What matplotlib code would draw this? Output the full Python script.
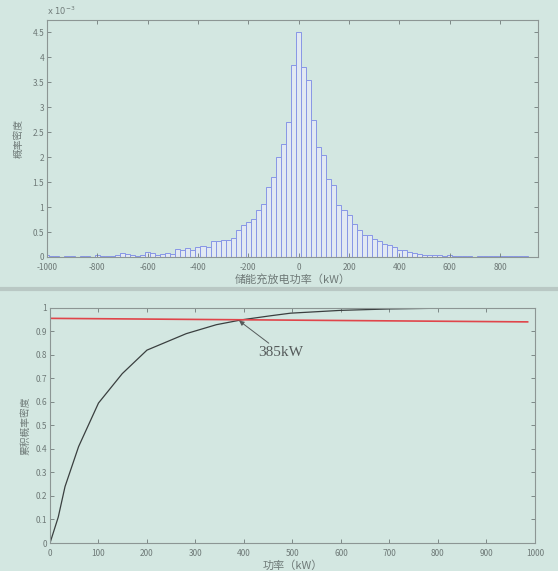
import numpy as np
import matplotlib
matplotlib.use("Agg")
import matplotlib.pyplot as plt
from matplotlib.ticker import FuncFormatter

plt.rcParams['font.family'] = ['Noto Sans CJK SC', 'DejaVu Sans']
plt.rcParams['axes.unicode_minus'] = False

# histogram: bin centres (kW) and density (x 1e-3)
bin_centers = np.arange(-1000, 940, 20)
density = np.array([
    0.03, 0.01, 0.01, 0.00, 0.01, 0.01, 0.00, 0.01, 0.01, 0.00,   # -1000 .. -820
    0.03, 0.01, 0.01, 0.02, 0.04, 0.07, 0.06, 0.03, 0.02, 0.03,   # -800 .. -620
    0.09, 0.07, 0.03, 0.05, 0.07, 0.06, 0.15, 0.13, 0.17, 0.14,   # -600 .. -420
    0.20, 0.21, 0.19, 0.31, 0.31, 0.34, 0.34, 0.37, 0.54, 0.64,   # -400 .. -220
    0.71, 0.77, 0.94, 1.07, 1.41, 1.61, 2.00, 2.27, 2.71, 3.84,   # -200 .. -20
    4.51, 3.81, 3.54, 2.74, 2.21, 2.04, 1.57, 1.44, 1.04, 0.95,   # 0 .. 180
    0.84, 0.66, 0.54, 0.45, 0.45, 0.35, 0.31, 0.25, 0.24, 0.20,   # 200 .. 380
    0.13, 0.13, 0.10, 0.07, 0.06, 0.04, 0.04, 0.03, 0.04, 0.02,   # 400 .. 580
    0.03, 0.02, 0.01, 0.01, 0.01, 0.00, 0.01, 0.02, 0.01, 0.01,   # 600 .. 780
    0.02, 0.01, 0.01, 0.01, 0.01, 0.01, 0.00,                     # 800 .. 920
])

# cumulative probability curve
cdf_x = [0, 17, 31, 59, 100, 149, 200, 281, 343, 396, 455, 496, 600, 700, 800, 900, 985]
cdf_y = [0, 0.11, 0.24, 0.41, 0.595, 0.72, 0.82, 0.89, 0.928, 0.949, 0.966, 0.977,
         0.989, 0.995, 0.998, 0.999, 1.0]

# 95% reference line and marked point
ref_x = [0, 985]
ref_y = [0.955, 0.94]
mark_x, mark_y = 390, 0.945
mark_label = "385kW"

bg = '#d3e7e1'
grey = '#6f7a78'
spine = '#8c9694'

fig = plt.figure(figsize=(5.58, 5.71), dpi=100, facecolor=bg)

# ---- top panel: histogram
ax1 = fig.add_axes([0.084, 0.55, 0.880, 0.415], facecolor=bg)
ax1.bar(bin_centers, density * 1e-3, width=20, facecolor='#e2e9f2',
        edgecolor='#8796e6', linewidth=0.7)
ax1.set_xlim(-1000, 950)
ax1.set_ylim(0, 4.75e-3)
ax1.set_xticks(np.arange(-1000, 801, 200))
ax1.set_yticks(np.arange(0, 4.51e-3, 0.5e-3))
ax1.yaxis.set_major_formatter(FuncFormatter(lambda v, p: f"{v * 1e3:g}"))
ax1.text(0.0, 1.012, r"x 10$^{-3}$", transform=ax1.transAxes, fontsize=6,
         color=grey, family='DejaVu Sans', va='bottom', ha='left')
ax1.set_xlabel("储能充放电功率（kW）", fontsize=8, color=grey, labelpad=2)
ax1.set_ylabel("概率密度", fontsize=7, color=grey, labelpad=6)

# ---- bottom panel: cumulative probability
ax2 = fig.add_axes([0.0896, 0.049, 0.869, 0.412], facecolor=bg)
ax2.plot(cdf_x, cdf_y, color='#3a3f3f', linewidth=0.9)
ax2.plot(ref_x, ref_y, color='#e0454a', linewidth=1.2)
ax2.annotate(mark_label, xy=(mark_x, mark_y), xytext=(430, 0.81),
             fontsize=11, color='#555b5b', family='Liberation Serif',
             va='center',
             arrowprops=dict(arrowstyle='-|>', color='#555b5b', lw=0.7,
                             shrinkA=0, shrinkB=0, mutation_scale=7))
ax2.set_xlim(0, 1000)
ax2.set_ylim(0, 1)
ax2.set_xticks(np.arange(0, 1001, 100))
ax2.set_yticks(np.arange(0, 1.01, 0.1))
ax2.set_yticklabels(['0', '0.1', '0.2', '0.3', '0.4', '0.5', '0.6', '0.7',
                     '0.8', '0.9', '1'])
ax2.set_xlabel("功率（kW）", fontsize=8, color=grey, labelpad=2)
ax2.set_ylabel("累积概率密度", fontsize=7, color=grey, labelpad=4)

for ax in (ax1, ax2):
    ax.tick_params(direction='in', top=True, right=True, labelsize=6,
                   colors=grey, length=3, width=0.6, pad=2)
    ax.tick_params(axis='x', pad=4)
    for s in ax.spines.values():
        s.set_color(spine)
        s.set_linewidth(0.8)

# separator between the two panels
fig.add_artist(plt.Line2D([0, 1], [0.494, 0.494], color='#b9c8c4', lw=3))

fig.savefig("out.png", dpi=100, facecolor=bg)
